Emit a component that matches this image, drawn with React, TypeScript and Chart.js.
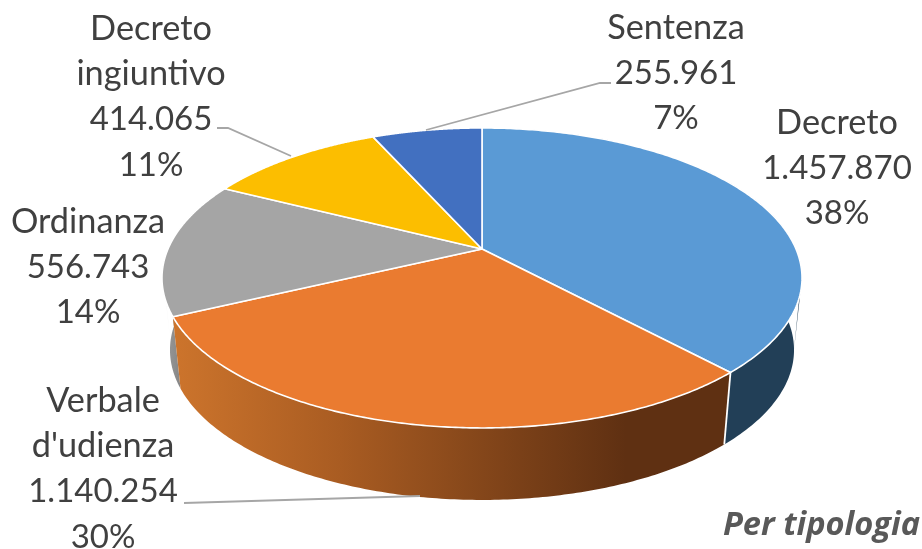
import React, { useEffect, useRef } from "react";
import { Chart, registerables } from "chart.js";

Chart.register(...registerables);

const categories = ["Decreto", "Verbale d'udienza", "Ordinanza", "Decreto ingiuntivo", "Sentenza"];
const seriesValues = [1457870, 1140254, 556743, 414065, 255961];
const valueLabels = ["1.457.870", "1.140.254", "556.743", "414.065", "255.961"];
const percentLabels = ["38%", "30%", "14%", "11%", "7%"];
const chartTitle = "Per tipologia";

const topColors = ["#5A9AD5", "#EA7B30", "#A5A5A5", "#FCBE00", "#4270C0"];
const labelAnchors = [
  { x: 837, y: 123 },
  { x: 103, y: 401 },
  { x: 88, y: 222 },
  { x: 151, y: 29 },
  { x: 676, y: 28 },
];
const leaderLines = [
  null,
  [[184, 503], [420, 496]],
  null,
  [[217, 128], [228, 128], [291, 156]],
  [[611, 83], [600, 83], [426, 130]],
];

const APEX = { x: 482, y: 249 };
const PROJ = { a: 314, b: 144.4, p: -0.193 };
const DEPTH = { scaleX: 0.975, dy: 72 };
const TEXT = "#404040";
const FONT = "Lato";
const LINE_H = 45.3;
const toChartAngle = (deg: number) => (deg * Math.PI) / 180 - Math.PI / 2;

function topPoint(angle: number) {
  const theta = angle + Math.PI / 2;
  const u = Math.sin(theta);
  const v = -Math.cos(theta);
  const d = 1 + PROJ.p * v;
  return { x: APEX.x + (PROJ.a * u) / d, y: APEX.y + (PROJ.b * v) / d };
}
function bottomPoint(angle: number) {
  const t = topPoint(angle);
  return { x: APEX.x + (t.x - APEX.x) * DEPTH.scaleX, y: t.y + DEPTH.dy };
}

function sidePath(ctx: CanvasRenderingContext2D, s: number, e: number) {
  const n = 160;
  ctx.beginPath();
  for (let i = 0; i <= n; i++) {
    const p = topPoint(s + ((e - s) * i) / n);
    i ? ctx.lineTo(p.x, p.y) : ctx.moveTo(p.x, p.y);
  }
  for (let i = n; i >= 0; i--) {
    const p = bottomPoint(s + ((e - s) * i) / n);
    ctx.lineTo(p.x, p.y);
  }
  ctx.closePath();
}

function hull(ctx: CanvasRenderingContext2D, topDeg: number, bottomDeg: number, fill: any) {
  const a = topPoint(toChartAngle(topDeg));
  const b = bottomPoint(toChartAngle(bottomDeg));
  const c = topPoint(toChartAngle(bottomDeg));
  ctx.beginPath();
  ctx.moveTo(a.x, a.y);
  ctx.lineTo(b.x, b.y);
  ctx.lineTo(c.x, c.y);
  ctx.lineTo(APEX.x, APEX.y);
  ctx.closePath();
  ctx.fillStyle = fill;
  ctx.fill();
}

const pie3d = {
  id: "pie3d",
  beforeDatasetsDraw(chart: any) {
    const ctx: CanvasRenderingContext2D = chart.ctx;
    const arcs = chart.getDatasetMeta(0).data;
    ctx.save();
    ctx.lineJoin = "round";

    const orangeGrad = ctx.createLinearGradient(175, 0, 725, 0);
    orangeGrad.addColorStop(0, "#CC742C");
    orangeGrad.addColorStop(0.3, "#A95C22");
    orangeGrad.addColorStop(0.82, "#5F3012");
    orangeGrad.addColorStop(1, "#5F3012");
    const grayGrad = ctx.createLinearGradient(160, 0, 185, 0);
    grayGrad.addColorStop(0, "#A0A0A0");
    grayGrad.addColorStop(1, "#808080");
    const sideFill: Record<number, any> = { 2: grayGrad, 0: "#223F57", 1: orangeGrad };

    hull(ctx, 250, 262, grayGrad);
    hull(ctx, 108.6, 101.1, "#223F57");
    [2, 0, 1].forEach((i) => {
      const { startAngle, endAngle } = arcs[i].getProps(["startAngle", "endAngle"], true);
      sidePath(ctx, startAngle, endAngle);
      ctx.fillStyle = sideFill[i];
      ctx.fill();
    });
    const cornerAngle = arcs[0].endAngle;
    const t = topPoint(cornerAngle);
    const b = bottomPoint(cornerAngle);
    ctx.beginPath();
    ctx.moveTo(t.x, t.y);
    ctx.lineTo(b.x, b.y);
    ctx.strokeStyle = "#FFFFFF";
    ctx.lineWidth = 1.8;
    ctx.stroke();

    arcs.forEach((arc: any, i: number) => {
      const { startAngle, endAngle } = arc.getProps(["startAngle", "endAngle"], true);
      ctx.beginPath();
      ctx.moveTo(APEX.x, APEX.y);
      const n = 200;
      for (let k = 0; k <= n; k++) {
        const p = topPoint(startAngle + ((endAngle - startAngle) * k) / n);
        ctx.lineTo(p.x, p.y);
      }
      ctx.closePath();
      ctx.fillStyle = topColors[i];
      ctx.fill();
      ctx.strokeStyle = "#FFFFFF";
      ctx.lineWidth = 1.6;
      ctx.stroke();
    });
    ctx.restore();
    return false;
  },
  afterDraw(chart: any) {
    const ctx: CanvasRenderingContext2D = chart.ctx;
    ctx.save();
    ctx.strokeStyle = "#A6A6A6";
    ctx.lineWidth = 1.8;
    leaderLines.forEach((l) => {
      if (!l) return;
      ctx.beginPath();
      l.forEach((p, k) => (k ? ctx.lineTo(p[0], p[1]) : ctx.moveTo(p[0], p[1])));
      ctx.stroke();
    });
    ctx.fillStyle = TEXT;
    ctx.textAlign = "center";
    ctx.textBaseline = "middle";
    chart.data.labels.forEach((name: string, i: number) => {
      const nameLines = name.split(" ");
      const anchor = labelAnchors[i];
      ctx.font = `34.3px ${FONT}`;
      nameLines.forEach((t, k) => ctx.fillText(t, anchor.x, anchor.y + k * LINE_H));
      ctx.font = `33px ${FONT}`;
      [valueLabels[i], percentLabels[i]].forEach((t, k) =>
        ctx.fillText(t, anchor.x, anchor.y + (nameLines.length + k) * LINE_H)
      );
    });
    ctx.fillStyle = "#595959";
    ctx.textAlign = "right";
    ctx.textBaseline = "alphabetic";
    ctx.font = `italic bold 32.6px "Open Sans"`;
    ctx.fillText(chartTitle, 920, 535);
    ctx.restore();
  },
};

export default function App() {
  const ref = useRef<HTMLCanvasElement | null>(null);
  useEffect(() => {
    const chart = new Chart(ref.current as HTMLCanvasElement, {
      type: "pie",
      data: {
        labels: categories,
        datasets: [{ data: seriesValues, backgroundColor: topColors, borderColor: "#FFFFFF" }],
      },
      options: {
        animation: false,
        responsive: false,
        plugins: { legend: { display: false }, tooltip: { enabled: false } },
      },
      plugins: [pie3d],
    } as any);
    return () => chart.destroy();
  }, []);
  return (
    <div style={{ position: "absolute", left: 0, top: 0, width: 922, height: 549, background: "#FFFFFF" }}>
      <canvas ref={ref} width={922} height={549} style={{ display: "block" }} />
    </div>
  );
}
